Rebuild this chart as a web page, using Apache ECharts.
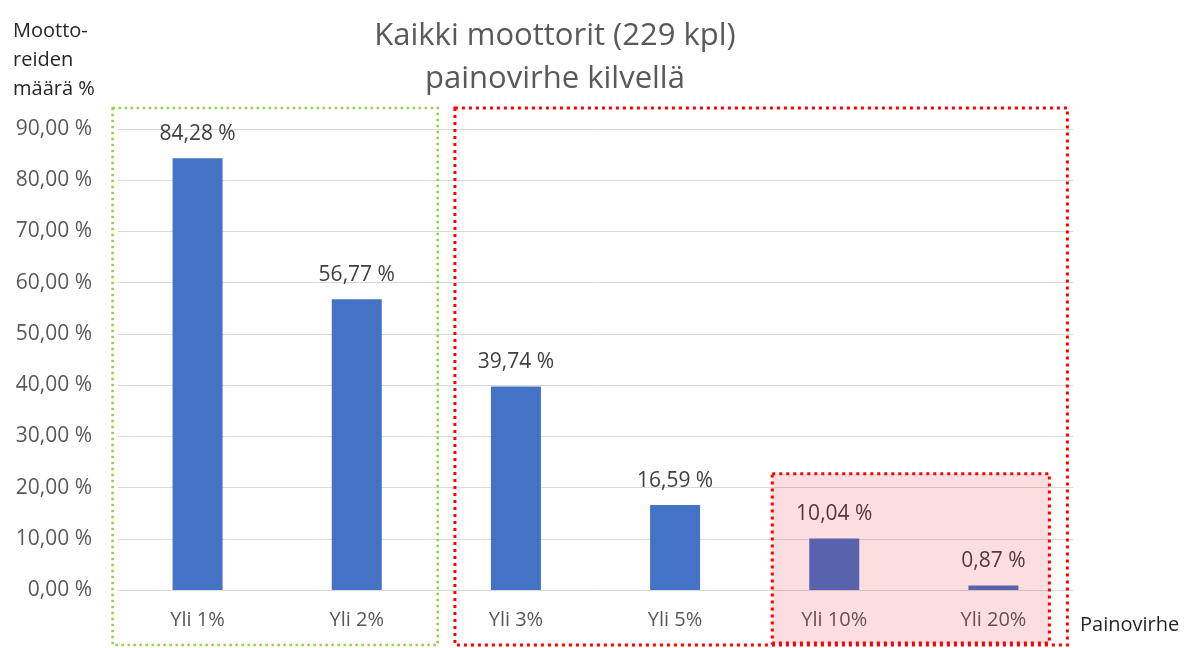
<!DOCTYPE html>
<html><head><meta charset="utf-8">
<script src="https://cdn.jsdelivr.net/npm/echarts@6/dist/echarts.min.js"></script>
<style>html,body{margin:0;padding:0;background:#fff}#c{width:1202px;height:648px}</style>
</head><body><div id="c"></div>
<script>
const categories = ['Yli 1%', 'Yli 2%', 'Yli 3%', 'Yli 5%', 'Yli 10%', 'Yli 20%'];
const values = [84.28, 56.77, 39.74, 16.59, 10.04, 0.87];
const titleLines = ['Kaikki moottorit (229 kpl)', 'painovirhe kilvellä'];
const yAxisNameLines = ['Mootto-', 'reiden', 'määrä %'];
const xAxisName = 'Painovirhe';
const yMax = 90, yStep = 10;

const FONT = '"Open Sans", sans-serif';
const fmt = v => v.toFixed(2).replace('.', ',') + ' %';

const chart = echarts.init(document.getElementById('c'));
chart.setOption({
  animation: false,
  title: {
    text: titleLines.join('\n'), left: 550, top: 10, textAlign: 'center',
    textStyle: {fontFamily: FONT, fontSize: 31, fontWeight: 'normal', color: '#595959', lineHeight: 43}
  },
  grid: {left: 118, right: 129, top: 129, bottom: 58},
  xAxis: {
    type: 'category', data: categories,
    axisLine: {lineStyle: {color: '#d9d9d9'}}, axisTick: {show: false},
    axisLabel: {color: '#595959', fontFamily: FONT, fontSize: 20, margin: 20}
  },
  yAxis: {
    type: 'value', min: 0, max: yMax, interval: yStep,
    axisLine: {show: false}, axisTick: {show: false},
    splitLine: {lineStyle: {color: '#d9d9d9'}},
    axisLabel: {color: '#595959', fontFamily: FONT, fontSize: 21, margin: 26, formatter: v => fmt(v)},
    name: yAxisNameLines.join('\n'), nameLocation: 'end',
    nameTextStyle: {color: '#262626', fontFamily: FONT, fontSize: 20, lineHeight: 29, align: 'left', padding: [0, 0, 10, -105]}
  },
  series: [{
    type: 'bar', data: values, barWidth: 50,
    itemStyle: {color: '#4472C4'},
    label: {show: true, position: 'top', distance: 14, color: '#404040', fontFamily: FONT, fontSize: 21, formatter: p => fmt(p.value)}
  }]
});

function px(i, v) { return chart.convertToPixel({xAxisIndex: 0, yAxisIndex: 0}, [i, v]); }
const c0 = px(0, 0), c1 = px(1, 0), c2 = px(2, 0), c4 = px(4, 0), c5 = px(5, 0);
const gridRect = chart.getModel().getComponent('grid').coordinateSystem.getRect();
const topY = px(0, yMax)[1] - 21;
const botY = c0[1] + 55;
const pinkTop = px(4, 22.7)[1];
chart.setOption({
  graphic: [
    {type: 'rect', z: 100, shape: {x: c4[0] - 62, y: pinkTop, width: (c5[0] + 56) - (c4[0] - 62), height: botY - 2 - pinkTop},
      style: {fill: 'rgba(232,0,23,0.134)', stroke: '#ff0000', lineWidth: 3, lineDash: [3, 4]}},
    {type: 'rect', z: 100, shape: {x: c0[0] - 85, y: topY, width: (c1[0] + 81) - (c0[0] - 85), height: botY - topY},
      style: {fill: 'none', stroke: '#92d050', lineWidth: 2.5, lineDash: [2.5, 3.5]}},
    {type: 'rect', z: 100, shape: {x: c2[0] - 61, y: topY, width: (c5[0] + 74) - (c2[0] - 61), height: botY - topY},
      style: {fill: 'none', stroke: '#ff0000', lineWidth: 3, lineDash: [3, 4]}},
    {type: 'text', z: 100, x: gridRect.x + gridRect.width + 7, y: c0[1] + 35,
      style: {text: xAxisName, fill: '#262626', font: '20px ' + FONT, textVerticalAlign: 'middle', verticalAlign: 'middle'}}
  ]
});
</script></body></html>
